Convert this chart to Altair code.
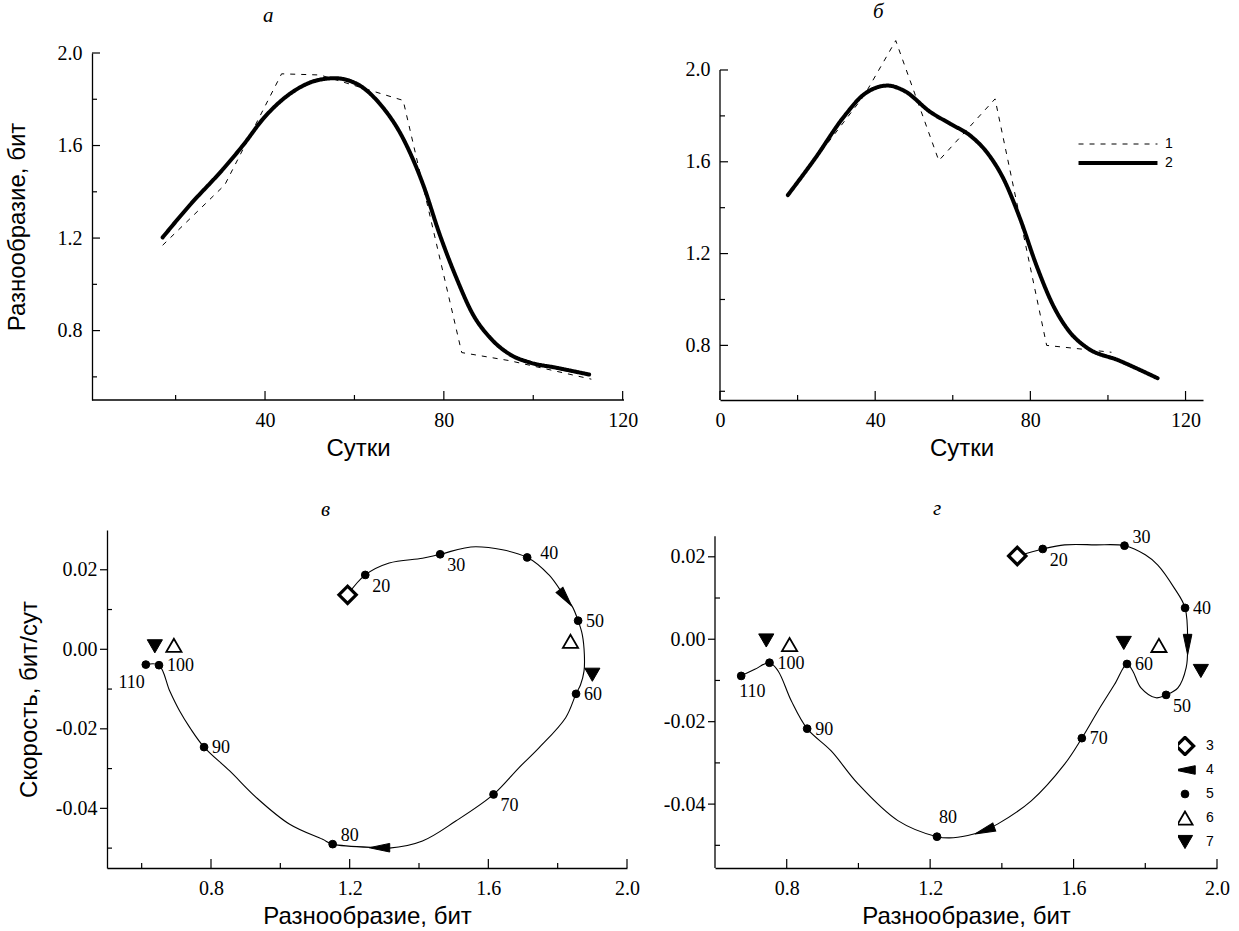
import altair as alt
import pandas as pd

SERIF = "Liberation Serif"
SANS = "Liberation Sans"

# ---------------- panel а (diversity vs day) ----------------
A_DASH_DAY = [17.1, 31.0, 43.7, 52.3, 70.9, 84.0, 94.7, 113.0]
A_DASH_VAL = [1.169, 1.43, 1.91, 1.905, 1.795, 0.705, 0.67, 0.59]
A_SOLID_DAY = [17.1, 23.2, 30.7, 35.2, 39.6, 45.6, 51.5, 55.6, 60.5, 65.7, 70.9, 75.4,
               79.1, 82.8, 86.5, 90.3, 94.7, 99.2, 105.0, 112.5]
A_SOLID_VAL = [1.203, 1.343, 1.50, 1.604, 1.716, 1.824, 1.881, 1.891, 1.867, 1.78, 1.63, 1.429,
               1.214, 1.028, 0.870, 0.770, 0.698, 0.662, 0.64, 0.61]

# ---------------- panel б ----------------
B_DASH_DAY = [17.5, 37.2, 45.3, 56.4, 70.9, 84.2, 100.9]
B_DASH_VAL = [1.455, 1.89, 2.128, 1.605, 1.874, 0.80, 0.77]
B_SOLID_DAY = [17.5, 24.4, 32.1, 37.2, 43.2, 47.4, 54.3, 59.4, 64.5, 68.8, 73.1, 77.4, 81.6,
               85.9, 90.2, 94.4, 103.0, 112.8]
B_SOLID_VAL = [1.455, 1.612, 1.80, 1.895, 1.932, 1.91, 1.816, 1.765, 1.714, 1.641, 1.525, 1.35,
               1.147, 0.973, 0.857, 0.792, 0.733, 0.657]

SERIES = ["1", "2"]

# ---------------- panel в (phase portrait) ----------------
V_CURVE_X = [1.194, 1.245, 1.314, 1.41, 1.461, 1.564, 1.712, 1.775, 1.823, 1.842, 1.859, 1.871,
             1.877, 1.876, 1.866, 1.853, 1.823, 1.746, 1.688, 1.615, 1.506, 1.41, 1.314, 1.286,
             1.151, 1.122, 1.027, 0.931, 0.854, 0.780, 0.739, 0.710, 0.681, 0.650, 0.612]
V_CURVE_Y = [0.0137, 0.0187, 0.0217, 0.0229, 0.0239, 0.0258, 0.0231, 0.0187, 0.0129, 0.0108,
             0.0072, 0.0037, -0.0013, -0.0055, -0.0089, -0.0112, -0.0172, -0.0248, -0.0298,
             -0.0365, -0.0432, -0.0482, -0.050, -0.0499, -0.049, -0.0478, -0.044, -0.0373,
             -0.0306, -0.0246, -0.0197, -0.0156, -0.0105, -0.004, -0.00385]
V_DAYS = [20, 30, 40, 50, 60, 70, 80, 90, 100, 110]
V_DAY_X = [1.245, 1.461, 1.712, 1.859, 1.853, 1.615, 1.151, 0.780, 0.650, 0.612]
V_DAY_Y = [0.0187, 0.0239, 0.0231, 0.0072, -0.0112, -0.0365, -0.049, -0.0246, -0.004, -0.00385]
V_DAY_POS = ["br", "br", "ur", "r", "r", "br", "ar", "r", "r", "bl"]
V_MARK = ["3", "4", "4", "7", "6", "6", "7"]
V_MARK_X = [1.194, 1.823, 1.286, 0.638, 0.693, 1.837, 1.90]
V_MARK_Y = [0.0137, 0.0129, -0.0499, 0.00075, 0.001, 0.002, -0.0064]
V_MARK_ANGLE = [0, 233, 0, 0, 0, 0, 0]

# ---------------- panel г ----------------
G_CURVE_X = [1.443, 1.514, 1.575, 1.66, 1.742, 1.80, 1.835, 1.881, 1.911, 1.918, 1.914, 1.891,
             1.858, 1.83, 1.788, 1.765, 1.749, 1.714, 1.668, 1.623, 1.575, 1.482, 1.389, 1.352,
             1.305, 1.254, 1.219, 1.11, 0.999, 0.924, 0.857, 0.813, 0.776, 0.752, 0.711, 0.673]
G_CURVE_Y = [0.0202, 0.0219, 0.0229, 0.0229, 0.0227, 0.0205, 0.018, 0.0124, 0.0076, -0.0013,
             -0.0069, -0.0118, -0.0135, -0.0142, -0.0118, -0.0077, -0.006, -0.011, -0.0174,
             -0.024, -0.0303, -0.0392, -0.0448, -0.0464, -0.0476, -0.0482, -0.0479, -0.044,
             -0.0351, -0.0271, -0.0217, -0.015, -0.0077, -0.0057, -0.0073, -0.0089]
G_DAYS = [20, 30, 40, 50, 60, 70, 80, 90, 100, 110]
G_DAY_X = [1.514, 1.742, 1.911, 1.858, 1.749, 1.623, 1.219, 0.857, 0.752, 0.673]
G_DAY_Y = [0.0219, 0.0227, 0.0076, -0.0135, -0.006, -0.024, -0.0479, -0.0217, -0.0057, -0.0089]
G_DAY_POS = ["br", "ar", "r", "br", "r", "r", "a", "r", "r", "b"]
G_MARK = ["3", "4", "4", "7", "6", "7", "6", "7"]
G_MARK_X = [1.443, 1.918, 1.352, 0.743, 0.808, 1.740, 1.838, 1.955]
G_MARK_Y = [0.0202, -0.0013, -0.0464, -0.0003, -0.0013, -0.0009, -0.0015, -0.0077]
G_MARK_ANGLE = [0, 270, 340, 0, 0, 0, 0, 0]

MARKERS = ["3", "4", "5", "6", "7"]

# ---------------- styles ----------------
ARROW = "M -1 0 L 1 -0.42 L 1 0.42 Z"
LONG_STROKE = "M -5.64 0 L 5.64 0"
MARK_SHAPE = {"3": "diamond", "4": ARROW, "5": "circle", "6": "triangle-up", "7": "triangle-down"}
MARK_FILL = {"3": "white", "4": "black", "5": "black", "6": "white", "7": "black"}
MARK_SIZE = {"3": 300, "4": 420, "5": 60, "6": 230, "7": 230}
MARK_SW = {"3": 3.2, "4": 1, "5": 1, "6": 1.8, "7": 1}
LINE_SW = {"1": 1, "2": 4}
LABEL_OFFSETS = {
    "r": (8, 1, "left"),
    "ur": (13, -3, "left"),
    "br": (7, 12, "left"),
    "ar": (8, -8, "left"),
    "bl": (-1, 18, "right"),
    "a": (2, -19, "left"),
    "b": (-2, 16, "left"),
}
TICK_FONT = 20
TITLE_FONT = 24
DAY_FONT = 18


def expr_map(d, default):
    parts = "".join(f"datum.value == '{k}' ? {v} : " for k, v in d.items())
    return parts + str(default)


def axis(title, values, fmt=None, label_expr=None, title_pad=6, label_pad=10, domain=True,
         offset=0, title_x=None):
    kw = dict(values=values, ticks=False, grid=False, domain=domain, domainColor="black",
              domainWidth=1.3, labelFont=SERIF, labelFontSize=TICK_FONT, labelColor="black",
              labelPadding=label_pad, labelFlush=False, labelOverlap=False,
              titleFont=SANS, titleFontSize=TITLE_FONT, titleFontWeight="normal",
              titleColor="black", titlePadding=title_pad, title=title if title else "",
              offset=offset)
    if fmt:
        kw["format"] = fmt
    if label_expr:
        kw["labelExpr"] = label_expr
    if title_x is not None:
        kw["titleX"] = title_x
    return alt.Axis(**kw)


def ticks(xs, xmaj, xmin, ys, ymaj, ymin, H, y_major_out=False, shift=0):
    """tick rules drawn with the panel's own scales"""
    layers = []
    for vals, ln in ((xmaj, 9), (xmin, 5)):
        d = pd.DataFrame({"x": vals})
        layers.append(alt.Chart(d).mark_rule(color="black", strokeWidth=1.2).encode(
            x=alt.X("x:Q", scale=xs), y=alt.value(H), y2=alt.value(H - ln)))
    for vals, a, b in ((ymaj, -7 if y_major_out else 0, 0 if y_major_out else 8), (ymin, 0, 5)):
        d = pd.DataFrame({"y": vals})
        layers.append(alt.Chart(d).mark_rule(color="black", strokeWidth=1.2).encode(
            y=alt.Y("y:Q", scale=ys), x=alt.value(a - shift), x2=alt.value(b - shift)))
    return layers


def y_domain_line(ys, lo, hi):
    d = pd.DataFrame({"y": [lo], "y2": [hi]})
    return alt.Chart(d).mark_rule(color="black", strokeWidth=1.3).encode(
        y=alt.Y("y:Q", scale=ys), y2="y2:Q", x=alt.value(0))


def x_domain_line(xs, lo, hi, H):
    d = pd.DataFrame({"x": [lo], "x2": [hi]})
    return alt.Chart(d).mark_rule(color="black", strokeWidth=1.3).encode(
        x=alt.X("x:Q", scale=xs), x2="x2:Q", y=alt.value(H))


def title_params(text, dx, offset):
    return alt.TitleParams(text, font=SERIF, fontStyle="italic", fontSize=21,
                           fontWeight="normal", anchor="start", frame="group", dx=dx,
                           offset=offset, color="black")


def line_panel(dash_day, dash_val, solid_day, solid_val, xdom, ydom, ytop, xline, xaxis, yaxis,
               W, H, title, tdx, toff, xmaj, xmin, ymaj, ymin, legend, shift=0):
    xs = alt.Scale(domain=xdom, nice=False, zero=False)
    ys = alt.Scale(domain=ydom, nice=False, zero=False)
    dash = pd.DataFrame({"x": dash_day, "y": dash_val, "series": SERIES[0]})
    solid = pd.DataFrame({"x": solid_day, "y": solid_val, "series": SERIES[1]})
    for d in (dash, solid):
        d["sw"] = d["series"].map(LINE_SW)
    sdash = alt.StrokeDash("series:N", scale=alt.Scale(domain=SERIES, range=[[5, 6], [1, 0]]),
                           legend=legend)
    swid = alt.StrokeWidth("sw:Q", scale=None)
    l1 = alt.Chart(dash).mark_line(color="black", clip=False).encode(
        x=alt.X("x:Q", scale=xs, axis=xaxis), y=alt.Y("y:Q", scale=ys, axis=yaxis),
        strokeDash=sdash, strokeWidth=swid)
    l2 = alt.Chart(solid).mark_line(color="black", interpolate="monotone", clip=False,
                                    strokeCap="round").encode(
        x=alt.X("x:Q", scale=xs, axis=xaxis), y=alt.Y("y:Q", scale=ys, axis=yaxis),
        strokeDash=sdash, strokeWidth=swid)
    layers = [l1, l2] + ticks(xs, xmaj, xmin, ys, ymaj, ymin, H, shift=shift)
    if ytop is not None:
        layers.append(y_domain_line(ys, ydom[0], ytop))
    if xline is not None:
        layers.append(x_domain_line(xs, xline[0], xline[1], H))
    return alt.layer(*layers).properties(width=W, height=H, title=title_params(title, tdx, toff))


line_legend = alt.Legend(
    orient="none", legendX=391, legendY=84, title=None, padding=0,
    symbolType=LONG_STROKE, symbolSize=196, labelFont=SANS,
    labelFontSize=14, labelColor="black", rowPadding=4, labelOffset=40,
    symbolStrokeColor="black", symbolFillColor="transparent",
    symbolStrokeWidth={"expr": expr_map(LINE_SW, 1)})

marker_legend = alt.Legend(
    orient="none", legendX=463, legendY=206, title=None, padding=0,
    labelFont=SANS, labelFontSize=14, labelColor="black", clipHeight=20,
    rowPadding=4, labelOffset=14, symbolStrokeColor="black", symbolOpacity=1,
    symbolSize={"expr": expr_map(MARK_SIZE, 100)},
    symbolStrokeWidth={"expr": expr_map(MARK_SW, 1)})


def phase_panel(cx, cy, days, dx_, dy_, pos, mk, mx, my, mang, xdom, ydom, ytop, xaxis, yaxis,
                W, H, title, tdx, toff, xmaj, xmin, ymaj, ymin, legend):
    xs = alt.Scale(domain=xdom, nice=False, zero=False)
    ys = alt.Scale(domain=ydom, nice=False, zero=False)
    curve = pd.DataFrame({"x": cx, "y": cy, "i": list(range(len(cx)))})
    dots = pd.DataFrame({"x": dx_, "y": dy_, "label": [str(d) for d in days], "pos": pos})
    marks = pd.concat([
        pd.DataFrame({"x": dx_, "y": dy_, "marker": "5", "angle": 0}),
        pd.DataFrame({"x": mx, "y": my, "marker": mk, "angle": mang}),
    ], ignore_index=True)
    marks["sz"] = marks["marker"].map(MARK_SIZE)
    marks["sw"] = marks["marker"].map(MARK_SW)
    X = alt.X("x:Q", scale=xs, axis=xaxis)
    Y = alt.Y("y:Q", scale=ys, axis=yaxis)
    line = alt.Chart(curve).mark_line(color="black", strokeWidth=1.1,
                                      interpolate="catmull-rom").encode(
        x=X, y=Y, order=alt.Order("i:Q"))
    pts = alt.Chart(marks).mark_point(filled=True, opacity=1).encode(
        x=X, y=Y,
        shape=alt.Shape("marker:N", scale=alt.Scale(
            domain=MARKERS, range=[MARK_SHAPE[m] for m in MARKERS]), legend=legend),
        fill=alt.Fill("marker:N", scale=alt.Scale(
            domain=MARKERS, range=[MARK_FILL[m] for m in MARKERS]), legend=legend),
        stroke=alt.Stroke("marker:N", scale=alt.Scale(
            domain=MARKERS, range=["black"] * len(MARKERS)), legend=legend),
        size=alt.Size("sz:Q", scale=None),
        strokeWidth=alt.StrokeWidth("sw:Q", scale=None),
        angle=alt.Angle("angle:Q", scale=None),
    )
    texts = []
    for code, (ddx, ddy, al) in LABEL_OFFSETS.items():
        texts.append(alt.Chart(dots).transform_filter(alt.datum.pos == code).mark_text(
            font=SERIF, fontSize=DAY_FONT, color="black", align=al, baseline="middle",
            dx=ddx, dy=ddy).encode(x=X, y=Y, text="label:N"))
    layers = [line, pts] + texts + ticks(xs, xmaj, xmin, ys, ymaj, ymin, H, y_major_out=True)
    if ytop is not None:
        layers.append(y_domain_line(ys, ydom[0], ytop))
    return alt.layer(*layers).properties(width=W, height=H, title=title_params(title, tdx, toff))


MINUS = "replace(datum.label, '\u2212', '-')"

pa = line_panel(A_DASH_DAY, A_DASH_VAL, A_SOLID_DAY, A_SOLID_VAL, [4.65, 120.3], [0.5, 2.0], None,
                [1.3, 120.3],
                axis("Сутки", [40, 80, 120], "d", domain=False, title_x=251),
                axis("Разнообразие, бит", [0.8, 1.2, 1.6, 2.0], ".1f", title_pad=28, offset=15),
                517, 347, "а", 156, 17,
                [40, 80, 120], [20, 60, 100], [0.8, 1.2, 1.6, 2.0], [0.6, 1.0, 1.4, 1.8], None,
                shift=15)
pb = line_panel(B_DASH_DAY, B_DASH_VAL, B_SOLID_DAY, B_SOLID_VAL, [0, 124.5], [0.562, 2.074], 2.0,
                None,
                axis("Сутки", [0, 40, 80, 120], "d"),
                axis(None, [0.8, 1.2, 1.6, 2.0], ".1f", domain=False),
                483, 347, "б", 153, 17,
                [0, 40, 80, 120], [20, 60, 100], [0.8, 1.2, 1.6, 2.0], [0.6, 1.0, 1.4, 1.8],
                line_legend)
pv = phase_panel(V_CURVE_X, V_CURVE_Y, V_DAYS, V_DAY_X, V_DAY_Y, V_DAY_POS,
                 V_MARK, V_MARK_X, V_MARK_Y, V_MARK_ANGLE, [0.5, 2.0], [-0.055, 0.03], None,
                 axis("Разнообразие, бит", [0.8, 1.2, 1.6, 2.0], ".1f"),
                 axis("Скорость, бит/сут", [-0.04, -0.02, 0.0, 0.02], ".2f", MINUS,
                      title_pad=14),
                 520, 338, "в", 214, 10,
                 [0.8, 1.2, 1.6, 2.0], [0.6, 1.0, 1.4, 1.8],
                 [-0.04, -0.02, 0.0, 0.02], [-0.05, -0.03, -0.01, 0.01], None)
pg = phase_panel(G_CURVE_X, G_CURVE_Y, G_DAYS, G_DAY_X, G_DAY_Y, G_DAY_POS,
                 G_MARK, G_MARK_X, G_MARK_Y, G_MARK_ANGLE, [0.6, 2.0], [-0.0555, 0.0265], 0.025,
                 axis("Разнообразие, бит", [0.8, 1.2, 1.6, 2.0], ".1f"),
                 axis(None, [-0.04, -0.02, 0.0, 0.02], ".2f", MINUS, domain=False),
                 502, 338, "г", 218, 10,
                 [0.8, 1.2, 1.6, 2.0], [1.0, 1.4, 1.8],
                 [-0.04, -0.02, 0.0, 0.02], [-0.05, -0.03, -0.01, 0.01], marker_legend)

top = alt.hconcat(pa, pb, spacing=47).resolve_legend(strokeDash="independent")
bottom = alt.hconcat(pv, pg, spacing=23).resolve_legend(
    shape="independent", fill="independent", stroke="independent")
chart = alt.vconcat(top, bottom, spacing=37).resolve_legend(
    strokeDash="independent", shape="independent", fill="independent", stroke="independent"
).configure(background="white", padding={"left": 5, "top": 0, "right": 5, "bottom": 0}
            ).configure_view(stroke=None)

chart.save("out.html", embed_options={"renderer": "svg", "actions": False})
